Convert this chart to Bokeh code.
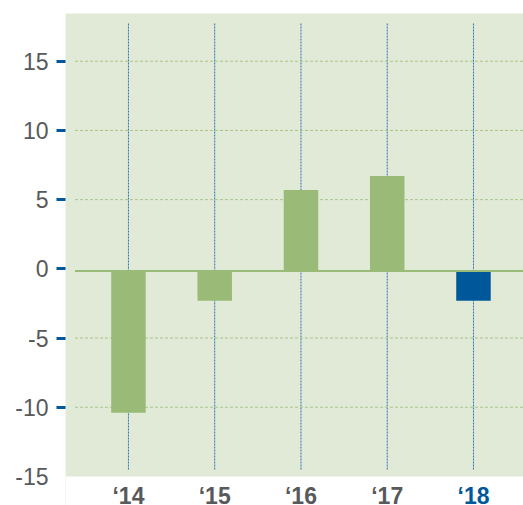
from bokeh.plotting import figure
from bokeh.models import LinearAxis, FixedTicker, Range1d, BoxAnnotation, ColumnDataSource
from bokeh.core.properties import value
from bokeh.embed import file_html
from bokeh.resources import INLINE

# Data
years = ["\u201814", "\u201815", "\u201816", "\u201817", "\u201818"]
values = [-10.4, -2.3, 5.7, 6.7, -2.3]
bar_colors = ["#9abb77", "#9abb77", "#9abb77", "#9abb77", "#00589a"]
label_colors = ["#58595b", "#58595b", "#58595b", "#58595b", "#00589a"]
y_ticks = [-15, -10, -5, 0, 5, 10, 15]
grid_vals = [-10, -5, 5, 10, 15]

xs = list(range(len(years)))

FONT = "Liberation Sans"
GRAY = "#58595b"
BLUE = "#00589a"
Y_MIN = -15
BASE = -0.15  # drawn baseline of the bars (sits just under the 0 tick)

p = figure(width=523, height=505, output_backend="svg", toolbar_location=None,
           x_range=Range1d(-0.73, 4.58), y_range=Range1d(-17.1, 18.45),
           x_axis_location=None, y_axis_location=None,
           min_border_left=65, min_border_right=0, min_border_top=13, min_border_bottom=0)
p.background_fill_color = "#e1ead7"
p.border_fill_color = "white"
p.outline_line_color = None
p.xgrid.visible = False
p.ygrid.visible = False

# white band below the axis minimum (label area)
p.add_layout(BoxAnnotation(top=Y_MIN, fill_color="white", fill_alpha=1.0,
                           line_color=None, level="underlay"))

# vertical dotted category lines
p.segment(x0=xs, y0=[-14.5] * len(xs), x1=xs, y1=[17.8] * len(xs),
          line_color="#2a74b4", line_width=1, line_dash="2 1")
# horizontal dotted grid lines
p.segment(x0=[-0.62] * len(grid_vals), y0=grid_vals, x1=[4.58] * len(grid_vals), y1=grid_vals,
          line_color="#a9c48c", line_width=1, line_dash="3 2")

p.vbar(x=xs, top=values, bottom=BASE, width=0.4, fill_color=bar_colors, line_color=None)

# zero line
p.segment(x0=[-0.62], y0=[BASE], x1=[4.58], y1=[BASE], line_color="#9abb77", line_width=2)

# year labels under the chart
src = ColumnDataSource(dict(x=xs, y=[-16.42] * len(xs), text=years, color=label_colors))
p.text(x="x", y="y", text="text", text_color="color", source=src,
       text_align="center", text_baseline="middle",
       text_font=value(FONT), text_font_size="23px", text_font_style="bold")

# inner left axis: tick marks only
ax_ticks = LinearAxis(ticker=FixedTicker(ticks=[t for t in y_ticks if t != Y_MIN]))
ax_ticks.major_label_overrides = {t: "" for t in y_ticks}
ax_ticks.major_tick_out = 9
ax_ticks.major_tick_in = 0
ax_ticks.major_tick_line_width = 3
ax_ticks.major_tick_line_color = BLUE
ax_ticks.minor_tick_line_color = None
ax_ticks.axis_line_color = None
ax_ticks.major_label_standoff = 0
ax_ticks.major_label_text_font_size = "1px"
p.add_layout(ax_ticks, "left")

# outer left axis: labels only
ax_lab = LinearAxis(ticker=FixedTicker(ticks=y_ticks))
ax_lab.major_label_overrides = {t: str(t) for t in y_ticks}
ax_lab.major_tick_line_color = None
ax_lab.major_tick_out = 0
ax_lab.major_tick_in = 0
ax_lab.minor_tick_line_color = None
ax_lab.axis_line_color = None
ax_lab.major_label_standoff = 8
ax_lab.major_label_text_font = FONT
ax_lab.major_label_text_font_size = "23px"
ax_lab.major_label_text_color = GRAY
p.add_layout(ax_lab, "left")

open("out.html", "w").write(file_html(p, INLINE))
